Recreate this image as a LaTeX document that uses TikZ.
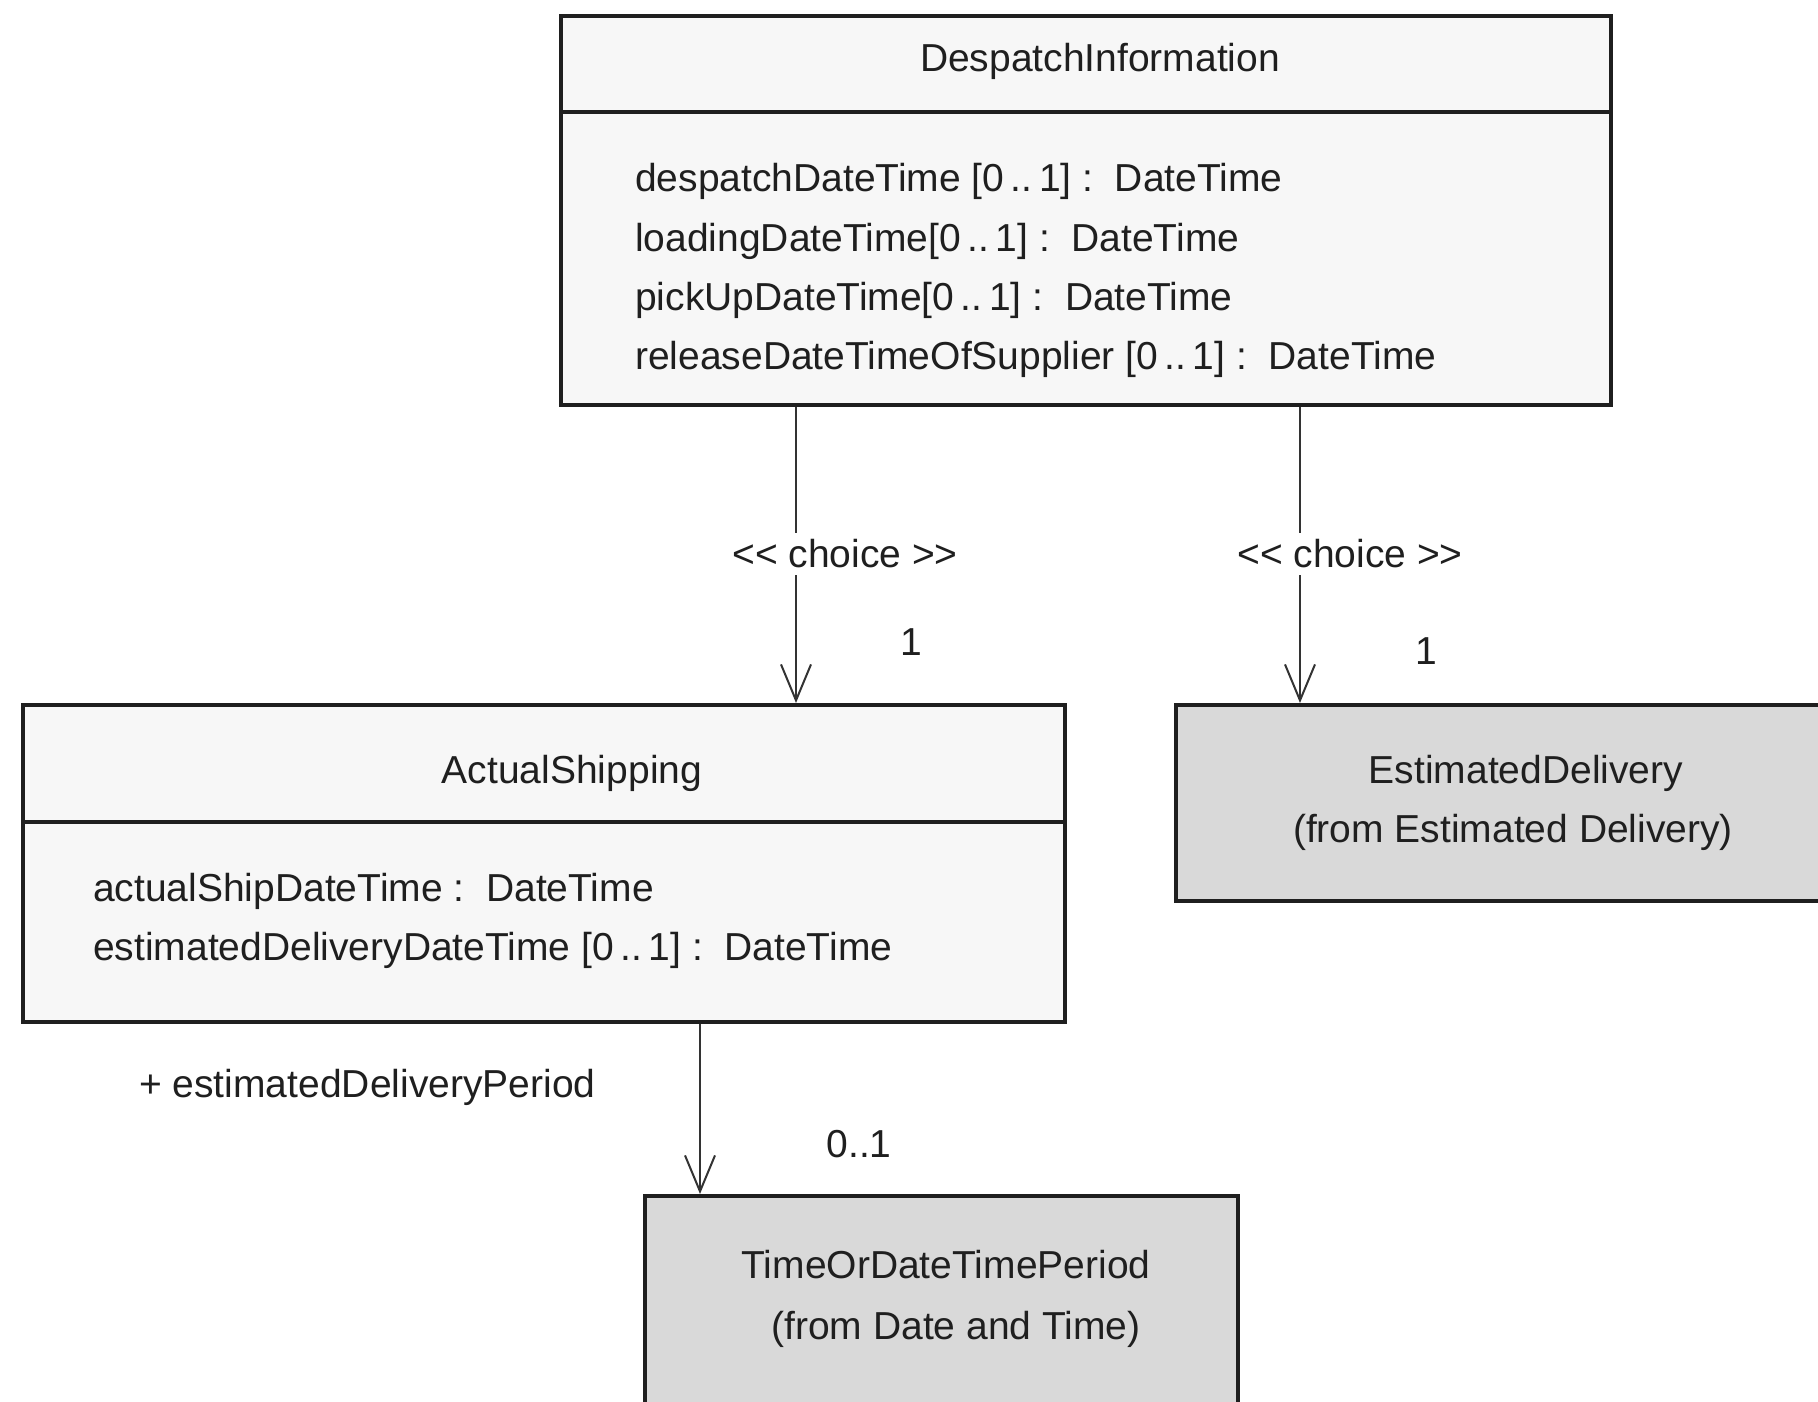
\documentclass[tikz,border=0pt]{standalone}
\usepackage{fontspec}
\setmainfont{Liberation Sans}
\usetikzlibrary{arrows.meta}
\begin{document}
\begin{tikzpicture}[x=1pt,y=-1pt,
  classbox/.style={draw=black!88, line width=3.6pt, fill=black!3, inner sep=0pt, anchor=north west},
  refbox/.style={draw=black!88, line width=3.6pt, fill=black!15, inner sep=0pt, anchor=north west},
  divider/.style={draw=black!88, line width=3.6pt},
  txt/.style={inner sep=0pt, font=\fontsize{39}{46}\selectfont, text=black!88, anchor=base},
  attr/.style={txt, anchor=base west},
  assoc/.style={draw=black!80, line width=2pt, -{Straight Barb[length=36pt,width=30pt,line width=2pt]}},
  lab/.style={txt, fill=white, inner sep=7pt, anchor=center}]
\clip (0,0) rectangle (1818,1402);
\fill[white] (0,0) rectangle (1818,1402);
% boxes
\node[classbox, minimum width=1050pt, minimum height=389pt] (desp) at (559,14) {};
\node[classbox, minimum width=1042pt, minimum height=317pt] (ship) at (21,703) {};
\node[refbox, minimum width=700pt, minimum height=196pt] (est) at (1174,703) {};
\node[refbox, minimum width=593pt, minimum height=260pt] (tp) at (643,1194) {};
% dividers
\draw[divider] (desp.west |- 0,112) -- (desp.east |- 0,112);
\draw[divider] (ship.west |- 0,822) -- (ship.east |- 0,822);
% texts
\node[txt] (dtitle) at (1100,72) {DespatchInformation};
\node[attr] (da1) at (635,191) {despatchDateTime [0\,..\,1] :\ \ DateTime};
\node[attr] (da2) at (635,251) {loadingDateTime[0\,..\,1] :\ \ DateTime};
\node[attr] (da3) at (635,310) {pickUpDateTime[0\,..\,1] :\ \ DateTime};
\node[attr] (da4) at (635,369) {releaseDateTimeOfSupplier [0\,..\,1] :\ \ DateTime};
\node[txt] (stitle) at (572,783) {ActualShipping};
\node[attr] (sa1) at (93,901) {actualShipDateTime :\ \ DateTime};
\node[attr] (sa2) at (93,960) {estimatedDeliveryDateTime [0\,..\,1] :\ \ DateTime};
\node[txt] (et1) at (1526,783) {EstimatedDelivery};
\node[txt] (et2) at (1513,842) {(from Estimated Delivery)};
\node[txt] (tt1) at (946,1278) {TimeOrDateTimePeriod};
\node[txt] (tt2) at (956,1339) {(from Date and Time)};
% connectors
\draw[assoc] (desp.south -| 796,0) -- (ship.north -| 796,0);
\draw[assoc] (desp.south -| 1300,0) -- (est.north -| 1300,0);
\draw[assoc] (ship.south -| 700,0) -- (tp.north -| 700,0);
% connector labels
\node[lab] (c1) at (845,554) {<\kern0pt< choice >\kern0pt>};
\node[lab] (c2) at (1350,554) {<\kern0pt< choice >\kern0pt>};
\node[txt] (m1) at (911,655) {1};
\node[txt] (m2) at (1426,664) {1};
\node[attr] (role) at (139,1097) {+ estimatedDeliveryPeriod};
\node[txt] (m3) at (859,1157) {0..1};
\end{tikzpicture}
\end{document}
